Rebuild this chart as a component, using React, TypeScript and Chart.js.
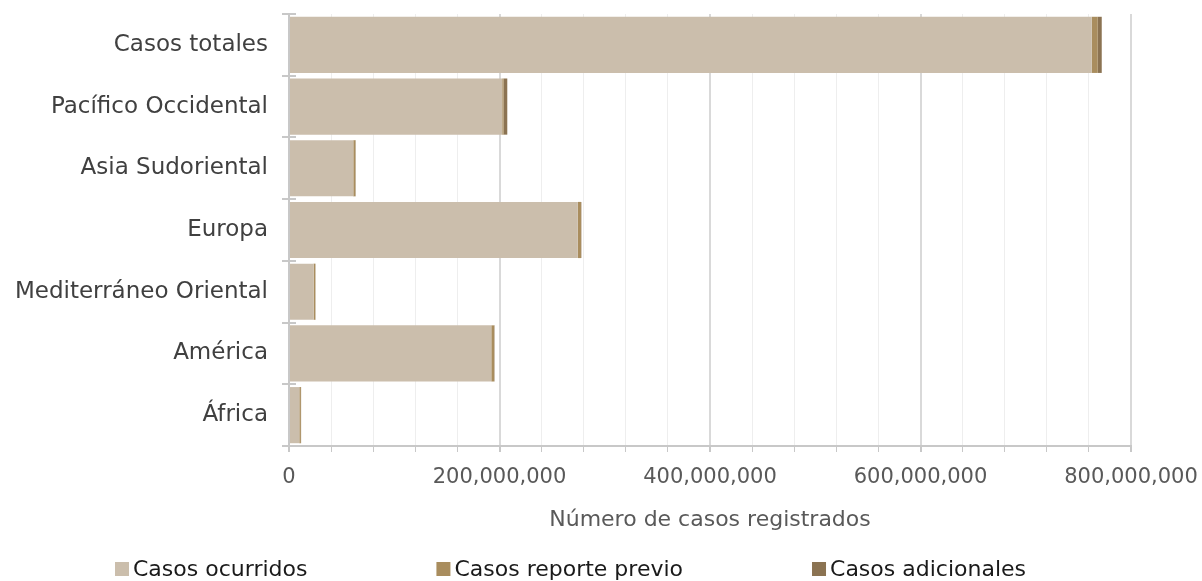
import React, { useEffect, useRef } from "react";
import { Chart, registerables } from "chart.js";

Chart.register(...registerables);

const categories = [
  "Casos totales",
  "Pacífico Occidental",
  "Asia Sudoriental",
  "Europa",
  "Mediterráneo Oriental",
  "América",
  "África",
];
const casosOcurridos = [762.7e6, 202.6e6, 61.1e6, 274.3e6, 23.4e6, 192.2e6, 9.8e6];
const casosReportePrevio = [5.7e6, 1.3e6, 2.0e6, 3.2e6, 1.6e6, 2.8e6, 1.5e6];
const casosAdicionales = [3.8e6, 3.5e6, 0.3e6, 0.3e6, 0.2e6, 0.3e6, 0.2e6];
const seriesNames = ["Casos ocurridos", "Casos reporte previo", "Casos adicionales"];
const seriesColors = ["#cbbeac", "#a98d5e", "#8b7352"];
const xTickMax = 800e6;
const xMinorStep = 40e6;
const xMajorStep = 200e6;
const axisTitle = "Número de casos registrados";

const FONT = '"DejaVu Sans", sans-serif';

const bottomLegend = {
  id: "bottomLegend",
  afterDraw(chart: any) {
    const ctx = chart.ctx;
    const size = 22;
    const box = 14;
    const gap = 129;
    const startX = 115;
    const cy = chart.height - 12;
    ctx.save();
    ctx.font = `${size}px ${FONT}`;
    ctx.textBaseline = "middle";
    ctx.textAlign = "left";
    let x = startX;
    chart.data.datasets.forEach((ds: any) => {
      ctx.fillStyle = ds.backgroundColor;
      ctx.fillRect(x, cy - box / 2, box, box);
      ctx.fillStyle = "#1a1a1a";
      ctx.fillText(ds.label, x + box + 4, cy + 1);
      x += box + 4 + ctx.measureText(ds.label).width + gap;
    });
    ctx.restore();
  },
};

const crossTicks = {
  id: "crossTicks",
  afterDraw(chart: any) {
    const y = chart.scales.y;
    const ctx = chart.ctx;
    const n = chart.data.labels.length;
    const step = (y.bottom - y.top) / n;
    ctx.save();
    ctx.strokeStyle = "#c8c8c8";
    ctx.lineWidth = 2;
    for (let i = 0; i < n; i++) {
      const yy = Math.round(y.top + i * step);
      ctx.beginPath();
      ctx.moveTo(y.right, yy);
      ctx.lineTo(y.right + 7, yy);
      ctx.stroke();
    }
    ctx.restore();
  },
};

export default function App() {
  const ref = useRef<HTMLCanvasElement>(null);
  useEffect(() => {
    document.body.style.margin = "0";
    const values = [casosOcurridos, casosReportePrevio, casosAdicionales];
    const chart = new Chart(ref.current!, {
      type: "bar",
      data: {
        labels: categories,
        datasets: seriesNames.map((n, i) => ({
          label: n,
          data: values[i],
          backgroundColor: seriesColors[i],
          borderWidth: 0,
          categoryPercentage: 1,
          barPercentage: 0.91,
        })),
      },
      options: {
        indexAxis: "y",
        animation: false,
        responsive: false,
        maintainAspectRatio: false,
        layout: { autoPadding: false, padding: { top: 14, right: 71, bottom: 40, left: 0 } },
        plugins: {
          legend: { display: false },
          tooltip: { enabled: false },
        },
        scales: {
          x: {
            stacked: true,
            min: 0,
            max: xTickMax,
            afterBuildTicks(scale: any) {
              const t = [];
              for (let v = 0; v <= xTickMax; v += xMinorStep) t.push({ value: v });
              scale.ticks = t;
            },
            afterFit(scale: any) {
              scale.height = 95;
              scale.paddingLeft = 0;
              scale.paddingRight = 0;
            },
            ticks: {
              autoSkip: false,
              maxRotation: 0,
              color: "#595959",
              padding: 13,
              font: { family: FONT, size: 21 },
              callback: (v: any) =>
                Number(v) % xMajorStep === 0 ? Number(v).toLocaleString("en-US") : "",
            },
            grid: {
              color: (c: any) =>
                c.tick && c.tick.value % xMajorStep === 0 ? "#d9d9d9" : "#eeeeee",
              lineWidth: (c: any) => (c.tick && c.tick.value % xMajorStep === 0 ? 2 : 1),
              tickColor: "#c8c8c8",
              tickLength: 6,
            },
            border: { color: "#c8c8c8", width: 2 },
            title: {
              display: true,
              text: axisTitle,
              color: "#595959",
              font: { family: FONT, size: 22 },
              padding: { top: 4, bottom: 8 },
            },
          },
          y: {
            stacked: true,
            afterFit(scale: any) {
              scale.width = 289;
              scale.paddingTop = 0;
              scale.paddingBottom = 0;
            },
            ticks: {
              color: "#404040",
              padding: 14,
              font: { family: FONT, size: 23 },
            },
            grid: {
              drawOnChartArea: false,
              offset: true,
              tickLength: 7,
              tickColor: "#c8c8c8",
              lineWidth: 2,
            },
            border: { color: "#c8c8c8", width: 2 },
          },
        },
      },
      plugins: [bottomLegend, crossTicks],
    });
    return () => chart.destroy();
  }, []);
  return <canvas ref={ref} width={1202} height={581} style={{ display: "block" }} />;
}
